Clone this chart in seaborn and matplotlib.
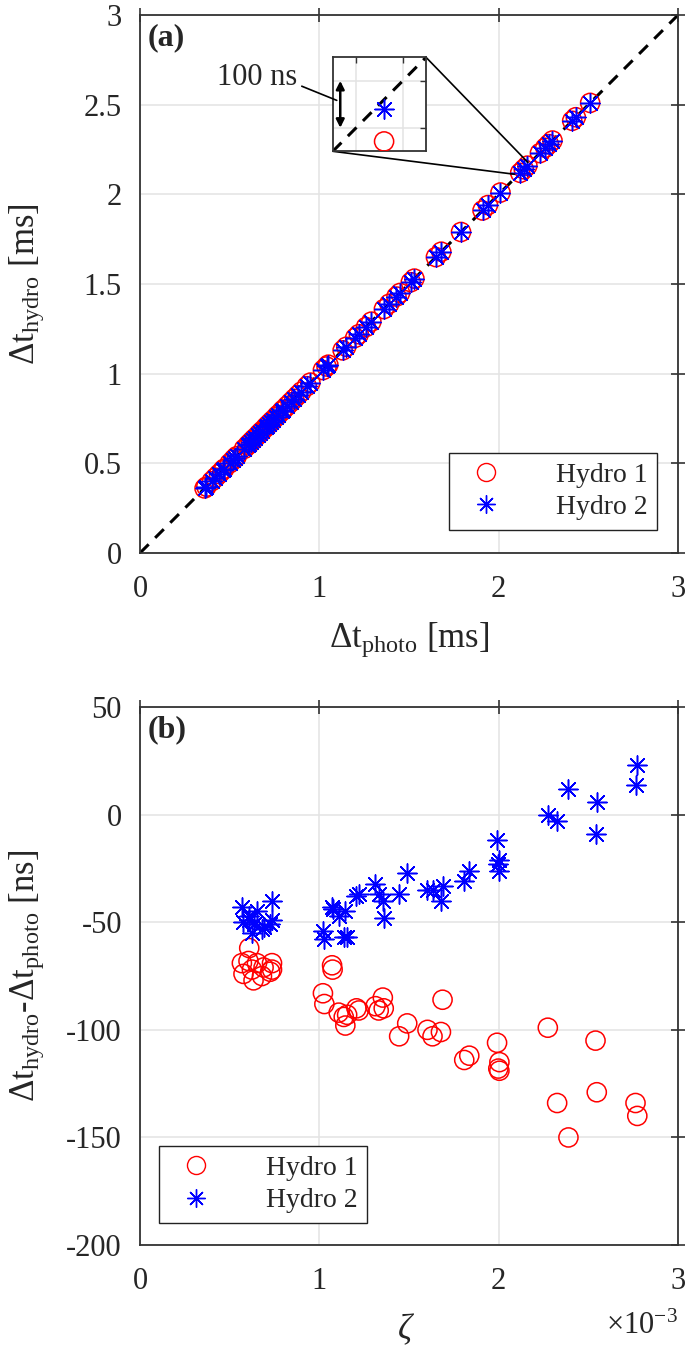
import numpy as np
import seaborn as sns
import matplotlib
matplotlib.use("Agg")
import matplotlib.pyplot as plt
from matplotlib.lines import Line2D

# ---- data ----
# (a) time differences [ms]; hydrophone values equal photo values at this scale
dt_photo = [0.36, 0.37, 0.40, 0.42, 0.44, 0.46, 0.47, 0.50, 0.52, 0.53, 0.54,
            0.58, 0.60, 0.61, 0.62, 0.63, 0.64, 0.66, 0.67, 0.68, 0.70, 0.71,
            0.72, 0.73, 0.74, 0.76, 0.77, 0.79, 0.80, 0.82, 0.84, 0.86, 0.88,
            0.90, 0.93, 0.95, 1.02, 1.04, 1.05, 1.13, 1.15, 1.20, 1.22, 1.26,
            1.29, 1.36, 1.39, 1.43, 1.45, 1.51, 1.53, 1.65, 1.68, 1.79, 1.91,
            1.94, 2.01, 2.12, 2.14, 2.16, 2.23, 2.26, 2.28, 2.30, 2.41, 2.43,
            2.51]
dt_hydro1 = dt_photo
dt_hydro2 = dt_photo

# inset: one event, offsets from the photo time [ns]
inset_h1_ns = -89
inset_h2_ns = -21

# (b) zeta [x1e-3] and hydro - photo differences [ns]
zeta = [0.568, 0.577, 0.605, 0.609, 0.624, 0.633, 0.652, 0.680, 0.689, 0.726,
        0.736, 0.736, 1.020, 1.028, 1.071, 1.074, 1.108, 1.136, 1.145, 1.155,
        1.207, 1.220, 1.313, 1.331, 1.354, 1.359, 1.445, 1.490, 1.603, 1.631,
        1.678, 1.687, 1.808, 1.836, 1.991, 2.004, 1.998, 2.004, 2.274, 2.326,
        2.389, 2.540, 2.547, 2.763, 2.773]
diff_hydro1 = [-69, -74, -68, -62, -72, -77, -69, -75, -71, -73,
               -69, -72, -83, -88, -70, -72, -92, -94, -98, -93,
               -90, -91, -89, -91, -85, -90, -103, -97, -100, -103,
               -101, -86, -114, -112, -106, -115, -118, -119, -99, -134,
               -150, -105, -129, -134, -140]
diff_hydro2 = [-43, -50, -49, -47, -55, -51, -45, -53, -52, -51,
               -40, -49, -54, -58, -43, -44, -47, -57, -45, -57,
               -38, -37, -32, -37, -40, -48, -37, -27, -35, -35,
               -40, -33, -31, -26, -12, -21, -23, -26, 0, -3,
               12, -9, 6, 14, 23]

labels = ["Hydro 1", "Hydro 2"]

sns.set_style("white")
plt.rcParams["font.family"] = ["Liberation Serif", "DejaVu Serif"]
plt.rcParams["mathtext.fontset"] = "custom"
plt.rcParams["mathtext.rm"] = "Liberation Serif"
plt.rcParams["mathtext.it"] = "Liberation Serif:italic"
plt.rcParams["axes.unicode_minus"] = False

STAR = (8, 2, 0)
MS = 190
SPINE = "#333333"

fig = plt.figure(figsize=(6.85, 13.53), dpi=100)
ax1 = fig.add_axes([0.2044, 0.5913, 0.7854, 0.3976])
ax2 = fig.add_axes([0.2044, 0.0798, 0.7854, 0.3976])


def style_axes(ax):
    ax.grid(True, color="#e3e3e3", linewidth=1.1)
    ax.set_axisbelow(True)
    for s in ax.spines.values():
        s.set_color(SPINE)
        s.set_linewidth(1.3)
    ax.tick_params(direction="inout", length=10, width=1.2, color=SPINE,
                   top=True, right=True, labelsize=22, pad=8)
    ax.tick_params(axis="x", pad=11)


# ---- panel (a) ----
sns.lineplot(x=[0, 3], y=[0, 3], ax=ax1, color="black", linewidth=2.2,
             dashes=(4, 3), legend=False, zorder=1)
sns.scatterplot(x=dt_photo, y=dt_hydro1, ax=ax1, marker="o", s=MS,
                facecolors="none", edgecolor="red", linewidth=1.1, zorder=3)
sns.scatterplot(x=dt_photo, y=dt_hydro2, ax=ax1, marker=STAR, s=MS,
                color="blue", linewidth=1.1, zorder=4)
ax1.set_xlim(0, 3)
ax1.set_ylim(0, 3)
ax1.set_xticks([0, 1, 2, 3])
ax1.set_yticks([0, 0.5, 1, 1.5, 2, 2.5, 3])
ax1.set_yticklabels(["0", "0.5", "1", "1.5", "2", "2.5", "3"])
style_axes(ax1)
ax1.set_xlabel(r"$\Delta\mathrm{t}_{\mathrm{photo}}$ [ms]", fontsize=25)
ax1.set_ylabel(r"$\Delta\mathrm{t}_{\mathrm{hydro}}$ [ms]", fontsize=25)
ax1.xaxis.set_label_coords(0.5, -0.125)
ax1.yaxis.set_label_coords(-0.175, 0.5)
ax1.text(0.015, 0.985, "(a)", transform=ax1.transAxes, fontsize=23,
         fontweight="bold", va="top", ha="left")

# inset zoom on one event
ins = ax1.inset_axes([1.075, 2.240, 0.52, 0.524], transform=ax1.transData)
ins.plot([-110, 90], [-110, 90], color="black", linewidth=2.2,
         dashes=(4, 3), zorder=1)
ins.scatter([0], [inset_h1_ns], marker="o", s=MS, facecolors="none",
            edgecolors="red", linewidths=1.1, zorder=3)
ins.scatter([0], [inset_h2_ns], marker=STAR, s=MS, color="blue",
            linewidths=1.1, zorder=4)
ins.set_xlim(-110, 90)
ins.set_ylim(-110, 90)
ins.set_xticks([-60, 40])
ins.set_yticks([-60, 40])
ins.set_xticklabels([])
ins.set_yticklabels([])
ins.grid(True, color="#e3e3e3", linewidth=1.1)
ins.tick_params(direction="in", length=4, width=1, color=SPINE,
                top=True, right=True)
for s in ins.spines.values():
    s.set_color(SPINE)
    s.set_linewidth(1.3)
ins.annotate("", xy=(-94, -60), xytext=(-94, 40),
             arrowprops=dict(arrowstyle="<|-|>", color="black", lw=1.8,
                             mutation_scale=12, shrinkA=0, shrinkB=0))

ax1.plot([1.595, 2.163], [2.764, 2.178], color="black", linewidth=1.2, zorder=5)
ax1.plot([1.075, 2.088], [2.240, 2.112], color="black", linewidth=1.2, zorder=5)
ax1.plot([0.902, 1.097], [2.603, 2.524], color="black", linewidth=1.2, zorder=6)
ax1.text(0.876, 2.652, "100 ns", fontsize=22, ha="right", va="center")

handles = [Line2D([], [], marker="o", linestyle="none", markersize=13,
                  markerfacecolor="none", markeredgecolor="red"),
           Line2D([], [], marker=STAR, linestyle="none", markersize=13,
                  color="blue")]
leg_kw = dict(fontsize=20, frameon=True, fancybox=False, framealpha=1,
              edgecolor="#222222", handletextpad=1.5, borderpad=0.35,
              labelspacing=0.25, handlelength=2.0, borderaxespad=0)
lg1 = ax1.legend(handles, labels, loc="lower right",
                 bbox_to_anchor=(0.961, 0.043), **leg_kw)
lg1.get_frame().set_linewidth(1.0)

# ---- panel (b) ----
sns.scatterplot(x=zeta, y=diff_hydro1, ax=ax2, marker="o", s=MS,
                facecolors="none", edgecolor="red", linewidth=1.1, zorder=3)
sns.scatterplot(x=zeta, y=diff_hydro2, ax=ax2, marker=STAR, s=MS,
                color="blue", linewidth=1.1, zorder=4)
ax2.set_xlim(0, 3)
ax2.set_ylim(-200, 50)
ax2.set_xticks([0, 1, 2, 3])
ax2.set_yticks([-200, -150, -100, -50, 0, 50])
style_axes(ax2)
ax2.set_xlabel(r"$\zeta$", fontsize=25)
ax2.set_ylabel(r"$\Delta\mathrm{t}_{\mathrm{hydro}}$-$\Delta\mathrm{t}_{\mathrm{photo}}$ [ns]",
               fontsize=25)
ax2.xaxis.set_label_coords(0.495, -0.125)
ax2.yaxis.set_label_coords(-0.175, 0.5)
ax2.text(1.0, -0.125, r"$\times$10$^{\mathrm{-3}}$", transform=ax2.transAxes,
         fontsize=22, ha="right", va="top")
ax2.text(0.015, 0.985, "(b)", transform=ax2.transAxes, fontsize=23,
         fontweight="bold", va="top", ha="left")
lg2 = ax2.legend(handles, labels, loc="lower left",
                 bbox_to_anchor=(0.035, 0.041), **leg_kw)
lg2.get_frame().set_linewidth(1.0)

fig.savefig("out.png", dpi=100, facecolor="white")
